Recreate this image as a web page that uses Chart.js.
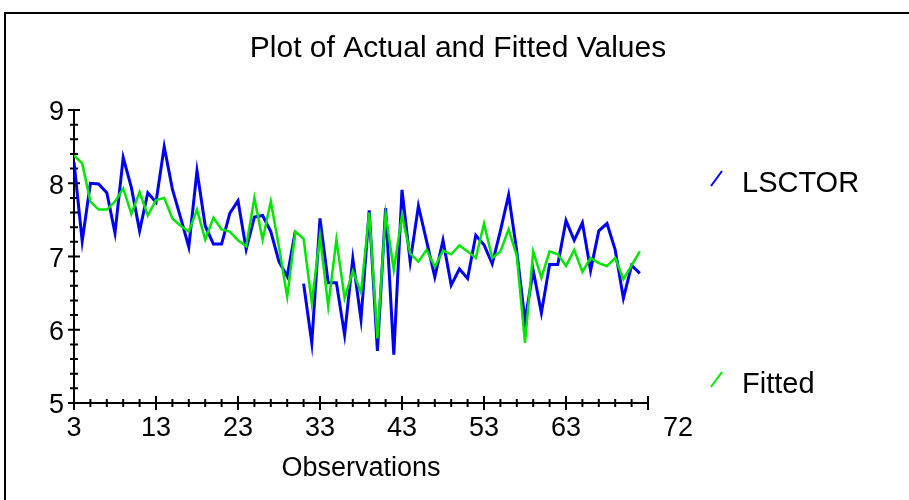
<!DOCTYPE html>
<html>
<head>
<meta charset="utf-8">
<title>Plot of Actual and Fitted Values</title>
<script src="https://cdn.jsdelivr.net/npm/chart.js@4.4.1/dist/chart.umd.min.js"></script>
<style>
  html, body { margin: 0; padding: 0; background: #fff; }
  canvas { display: block; }
</style>
</head>
<body>
<canvas id="chart" width="909" height="500"></canvas>
<script>
const observations = [
  3, 4, 5, 6, 7, 8, 9, 10, 11, 12, 13, 14, 15, 16, 17, 18, 19, 20, 21, 22,
  23, 24, 25, 26, 27, 28, 29, 30, 31, 32, 33, 34, 35, 36, 37, 38, 39, 40, 41, 42,
  43, 44, 45, 46, 47, 48, 49, 50, 51, 52, 53, 54, 55, 56, 57, 58, 59, 60, 61, 62,
  63, 64, 65, 66, 67, 68, 69, 70, 71, 72,
];

const actual = [
  8.29, 7.21, 8.00, 7.99, 7.87, 7.32, 8.35, 7.94, 7.35, 7.87, 7.74, 8.50, 7.92, 7.53, 7.13, 8.17, 7.42, 7.17, 7.17, 7.59,
  7.76, 7.10, 7.54, 7.56, 7.34, 6.93, 6.73, 7.35, 6.63, 5.82, 7.52, 6.64, 6.64, 5.93, 6.97, 6.14, 7.63, 5.71, 7.66, 5.66,
  7.91, 6.93, 7.69, 7.21, 6.72, 7.22, 6.61, 6.83, 6.70, 7.29, 7.16, 6.90, 7.35, 7.84, 7.07, 6.12, 6.81, 6.23, 6.89, 6.89,
  7.49, 7.22, 7.46, 6.81, 7.35, 7.45, 7.09, 6.43, 6.88, 6.77,
];

const fitted = [
  8.38, 8.27, 7.75, 7.64, 7.64, 7.75, 7.93, 7.58, 7.88, 7.56, 7.77, 7.80, 7.52, 7.42, 7.34, 7.64, 7.23, 7.53, 7.37, 7.34,
  7.22, 7.14, 7.80, 7.23, 7.75, 7.13, 6.45, 7.34, 7.24, 6.37, 7.28, 6.32, 7.23, 6.43, 6.80, 6.51, 7.60, 5.88, 7.58, 6.82,
  7.56, 7.04, 6.93, 7.09, 6.86, 7.08, 7.03, 7.15, 7.07, 6.98, 7.45, 6.98, 7.07, 7.37, 7.01, 5.82, 7.07, 6.71, 7.07, 7.03,
  6.87, 7.09, 6.79, 6.98, 6.91, 6.87, 6.98, 6.69, 6.88, 7.07,
];

const chartTitle = "Plot of Actual and Fitted Values";
const seriesNames = ["LSCTOR", "Fitted"];
const xTickValues = [3, 13, 23, 33, 43, 53, 63, 73];
const xTickLabels = ["3", "13", "23", "33", "43", "53", "63", "        72"];
const yTickValues = [5, 6, 7, 8, 9];
// the actual line is not joined between these two observations in the original
const actualGapAfter = 30;

const FONT = "'Liberation Sans', Arial, sans-serif";
const BLUE = "#0000f0";
const GREEN = "#00e600";

function toPoints(values) {
  return values.map((v, i) => ({ x: observations[i], y: v }));
}

const axesPlugin = {
  id: "axesPlugin",
  beforeDatasetsDraw(chart) {
    const { ctx, chartArea } = chart;
    const xs = chart.scales.x;
    const ys = chart.scales.y;
    ctx.save();
    ctx.strokeStyle = "#000";
    ctx.lineWidth = 2;

    // outer frame (top and left)
    ctx.beginPath();
    ctx.moveTo(5, 500);
    ctx.lineTo(5, 13);
    ctx.lineTo(909, 13);
    ctx.stroke();

    // axis lines
    ctx.beginPath();
    ctx.moveTo(chartArea.left, chartArea.top);
    ctx.lineTo(chartArea.left, chartArea.bottom);
    ctx.lineTo(chartArea.right, chartArea.bottom);
    ctx.stroke();

    // ticks crossing the axes
    ctx.beginPath();
    for (let v = xs.min; v <= xs.max + 1e-6; v += 2) {
      const px = xs.getPixelForValue(v);
      const major = Math.abs((v - xs.min) % 10) < 1e-6;
      const len = major ? 7 : 4;
      ctx.moveTo(px, chartArea.bottom - len);
      ctx.lineTo(px, chartArea.bottom + len);
    }
    for (let i = 0; i <= 20; i++) {
      const v = ys.min + i * 0.2;
      const py = ys.getPixelForValue(v);
      const major = i % 5 === 0;
      const len = major ? 6 : 4;
      ctx.moveTo(chartArea.left - len, py);
      ctx.lineTo(chartArea.left + len, py);
    }
    ctx.stroke();
    ctx.restore();
  },
  afterDraw(chart) {
    const { ctx } = chart;
    ctx.save();
    ctx.fillStyle = "#000";
    ctx.textBaseline = "middle";

    // title, centred on the whole picture
    ctx.font = "30px " + FONT;
    ctx.textAlign = "center";
    ctx.fillText(chartTitle, 458, 49);

    // legend at the right
    const items = [
      { name: seriesNames[0], color: BLUE, y: 184 },
      { name: seriesNames[1], color: GREEN, y: 385 },
    ];
    ctx.font = "29px " + FONT;
    ctx.textAlign = "left";
    for (const item of items) {
      ctx.strokeStyle = item.color;
      ctx.lineWidth = 2;
      ctx.beginPath();
      ctx.moveTo(711, item.y + 2);
      ctx.lineTo(722, item.y - 13);
      ctx.stroke();
      ctx.fillText(item.name, 742, item.y);
    }
    ctx.restore();
  },
};

new Chart(document.getElementById("chart"), {
  type: "line",
  data: {
    datasets: [
      {
        label: seriesNames[0],
        data: toPoints(actual),
        borderColor: BLUE,
        borderWidth: 3,
        pointRadius: 0,
        tension: 0,
        order: 2,
        segment: {
          borderColor: (ctx) => (observations[ctx.p0DataIndex] === actualGapAfter ? "rgba(0,0,0,0)" : undefined),
        },
      },
      {
        label: seriesNames[1],
        data: toPoints(fitted),
        borderColor: GREEN,
        borderWidth: 2.5,
        pointRadius: 0,
        tension: 0,
        order: 1,
      },
    ],
  },
  options: {
    responsive: false,
    animation: false,
    devicePixelRatio: 1,
    layout: { padding: { left: 0, right: 261, top: 110, bottom: 0 } },
    plugins: {
      legend: { display: false },
      tooltip: { enabled: false },
      title: { display: false },
    },
    scales: {
      x: {
        type: "linear",
        min: 3,
        max: 73,
        grid: { display: false },
        border: { display: false },
        afterBuildTicks: (scale) => {
          scale.ticks = xTickValues.map((v) => ({ value: v }));
        },
        afterFit: (scale) => {
          scale.height = 97;
        },
        ticks: {
          autoSkip: false,
          maxRotation: 0,
          color: "#000",
          padding: 1,
          font: { family: FONT, size: 27 },
          callback: (value, index) => xTickLabels[index],
        },
        title: {
          display: true,
          text: "Observations",
          color: "#000",
          font: { family: FONT, size: 27 },
          padding: { top: 0, bottom: 15 },
        },
      },
      y: {
        min: 5,
        max: 9,
        grid: { display: false },
        border: { display: false },
        afterBuildTicks: (scale) => {
          scale.ticks = yTickValues.map((v) => ({ value: v }));
        },
        afterFit: (scale) => {
          scale.width = 74;
        },
        ticks: {
          color: "#000",
          padding: 2,
          labelOffset: 3,
          font: { family: FONT, size: 27 },
        },
      },
    },
  },
  plugins: [axesPlugin],
});
</script>
</body>
</html>
